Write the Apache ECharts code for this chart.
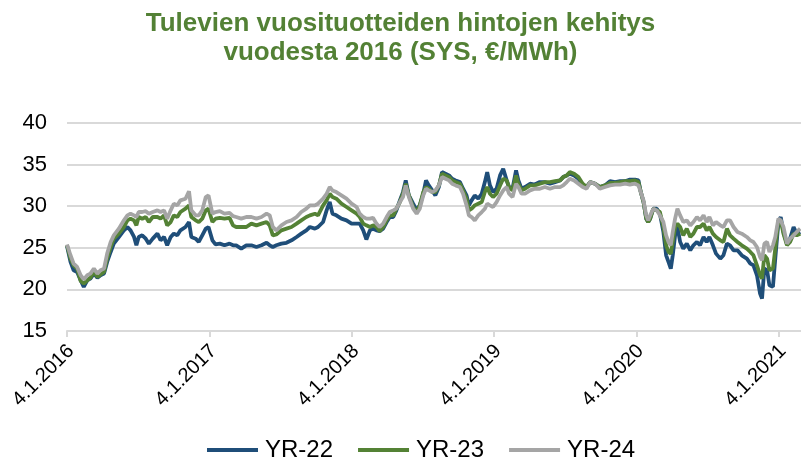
<!DOCTYPE html>
<html>
<head>
<meta charset="utf-8">
<script src="https://cdn.jsdelivr.net/npm/echarts@6/dist/echarts.min.js"></script>
<style>
html,body{margin:0;padding:0;background:#fff;}
#c{width:801px;height:462px;}
</style>
</head>
<body>
<div id="c"></div>
<script>
// Days since 4.1.2016
const days = [0,9,17,26,35,43,52,60,69,78,86,95,103,112,120,133,146,155,163,172,178,184,193,202,210,220,232,240,249,257,266,274,283,291,304,313,319,330,338,347,356,363,373,381,
392,404,417,426,434,447,460,473,486,499,512,520,528,537,550,563,576,589,601,614,623,636,644,657,666,674,681,691,704,717,730,743,
751,760,768,777,785,794,802,811,820,828,837,845,854,862,869,877,888,897,905,914,921,928,937,945,954,962,971,980,988,997,1008,1016,1025,1031,1038,1046,1055,1064,1072,1078,1085,1093,1102,1111,1119,
1128,1134,1143,1152,1158,1166,1175,1188,1200,1213,1226,1239,1252,1265,1273,1282,1290,1301,1312,1323,1333,1342,1355,1367,1380,1393,1406,1419,1432,1444,1457,1466,1472,1479,1486,1491,
1496,1504,1513,1521,1530,1537,1543,1549,1554,1560,1566,1573,1581,1590,1599,1607,1616,1624,1633,1641,1648,1657,1665,1676,1684,1693,1701,1710,1720,1731,1744,1753,1761,1770,1778,1783,1789,1796,1802,1811,1817,1825,1831,1838,1847,1855,1864,1872,1881];

const yr22 = [25.2,23.3,22.3,22.1,21.1,20.3,21.1,21.3,21.9,21.4,21.7,21.9,23.3,24.5,25.5,26.3,27.1,27.5,27.1,26.3,25.3,26.3,26.5,26.1,25.5,26.1,26.7,25.9,26.3,25.3,26.3,26.7,26.5,27.1,27.5,28.1,26.3,26.1,25.7,26.5,27.3,27.5,25.9,25.4,
25.5,25.3,25.5,25.3,25.3,24.9,25.3,25.3,25.1,25.3,25.6,25.3,25.1,25.3,25.5,25.6,25.9,26.3,26.7,27.1,27.5,27.3,27.5,28.1,29.5,30.5,29.1,28.9,28.5,28.3,27.9,27.9,
27.9,27.1,26.0,27.1,27.3,27.1,27.0,27.3,28.1,28.7,28.7,29.5,30.7,31.7,33.1,31.3,30.3,29.5,30.1,31.5,33.1,32.5,31.9,31.3,32.3,34.1,33.9,33.7,33.3,33.1,32.9,32.1,31.3,30.1,30.7,31.3,30.9,31.5,32.9,34.1,32.5,31.7,32.1,33.7,34.5,
33.1,32.3,32.1,34.3,33.1,32.1,32.3,32.7,32.6,32.9,32.9,32.7,32.9,33.1,33.5,33.7,33.9,33.7,33.3,32.5,32.3,32.9,32.7,32.3,32.5,33.0,32.9,33.0,33.0,33.2,33.2,33.1,31.7,30.5,28.5,28.1,
28.5,29.7,29.7,29.1,26.9,24.1,23.3,22.5,24.1,26.5,27.5,25.7,24.9,25.5,24.7,25.3,25.7,25.3,26.3,25.7,26.3,25.3,24.3,23.7,24.1,25.5,25.3,24.7,24.7,24.1,23.7,23.1,22.9,21.7,19.5,18.9,22.5,22.3,20.5,20.3,23.7,28.1,28.7,26.9,25.5,26.1,27.5,26.7,26.9];

const yr23 = [25.3,23.7,22.9,22.5,21.0,20.7,21.1,21.4,22.1,21.5,21.8,22.1,23.7,25.1,26.1,26.7,27.5,28.3,28.5,28.3,27.7,28.7,28.5,28.7,28.1,28.7,28.7,28.5,28.9,27.7,28.1,28.9,28.7,29.3,29.7,30.1,28.7,28.3,28.1,28.5,29.5,29.7,28.1,28.5,
28.6,28.5,28.6,27.7,27.5,27.5,27.5,27.9,27.7,27.9,28.1,27.7,26.5,26.6,27.1,27.3,27.5,27.9,28.3,28.7,28.9,29.1,28.9,30.1,30.7,31.5,31.1,30.9,30.3,29.9,29.5,29.1,
28.7,27.9,27.7,27.5,27.7,27.5,27.0,27.5,28.3,28.9,28.9,29.7,30.5,31.5,32.7,31.3,29.9,29.3,30.1,31.7,32.3,32.1,31.7,31.7,32.5,33.9,33.7,33.5,33.1,32.9,32.7,31.9,30.9,29.5,29.7,30.1,30.3,30.5,31.7,32.3,31.5,31.1,31.5,32.5,33.3,
33.1,32.3,31.9,33.7,32.7,31.9,32.1,32.5,32.5,32.7,32.9,32.9,33.0,33.1,33.5,33.7,34.1,33.9,33.5,32.7,32.3,32.9,32.7,32.3,32.5,32.8,32.8,32.9,33.0,33.0,33.1,32.9,31.7,30.5,28.5,28.1,
28.5,29.7,29.5,29.3,27.5,25.3,24.5,24.3,25.7,27.5,27.9,27.5,26.5,27.3,26.3,26.7,27.5,27.5,27.9,27.1,27.5,26.7,26.3,25.9,25.7,27.3,26.5,26.1,25.7,25.3,24.9,24.5,24.1,22.9,21.7,21.3,24.1,23.7,22.3,22.5,24.9,28.3,28.3,26.7,25.3,25.7,26.7,26.5,26.7];

const yr24 = [25.4,24.1,23.1,22.7,21.7,21.2,21.7,21.9,22.5,21.9,22.3,22.5,24.3,25.7,26.5,27.3,28.3,28.9,29.1,28.9,28.7,29.3,29.3,29.4,29.1,29.3,29.5,29.3,29.5,28.5,29.5,30.3,30.1,30.7,30.9,31.8,29.5,28.9,28.9,29.5,31.1,31.3,29.1,29.3,
29.4,29.1,29.2,28.8,28.7,28.5,28.7,28.7,28.5,28.7,29.1,28.9,27.5,27.1,27.7,28.1,28.3,28.7,29.3,29.7,30.1,30.1,30.3,30.9,31.5,32.3,31.9,31.7,31.3,30.9,30.3,29.9,
29.1,28.7,28.5,28.5,28.6,27.9,27.5,27.9,28.7,29.3,29.5,29.7,30.5,31.1,32.5,31.1,29.7,29.1,29.7,31.3,32.1,31.9,31.7,31.9,32.5,33.5,33.3,33.1,32.7,32.5,32.3,31.5,30.1,28.9,28.7,28.3,28.9,29.3,29.7,30.3,30.1,29.9,30.5,31.3,31.9,
32.3,31.5,31.1,32.7,32.3,31.5,31.5,31.9,32.1,32.1,32.3,32.1,32.3,32.3,32.5,32.9,33.3,33.1,32.7,32.3,32.1,32.9,32.7,32.1,32.3,32.5,32.6,32.6,32.7,32.6,32.7,32.5,31.7,30.7,28.9,28.3,
28.9,29.7,29.5,28.9,28.1,26.5,25.7,25.3,26.9,28.5,29.7,28.9,28.1,28.3,27.7,28.1,28.7,28.3,28.9,28.1,28.7,27.7,28.1,27.7,27.5,28.3,28.3,27.5,26.9,26.7,26.3,25.9,25.7,25.1,23.9,23.5,25.5,25.7,24.5,25.3,26.3,28.5,28.3,27.5,25.5,26.1,26.5,26.9,27.3];

const tickDays = [0,366,731,1096,1461,1827];
const tickLabels = ['4.1.2016','4.1.2017','4.1.2018','4.1.2019','4.1.2020','4.1.2021'];
const seriesNames = ['YR-22','YR-23','YR-24'];
const seriesColors = ['#1f4e79','#548235','#a5a5a5'];

function pairs(vals){ return days.map((d,i)=>[d, vals[i]]); }
const allVals = [yr22, yr23, yr24];
// small visual shift so the rotated labels sit like the original's
const LABEL_SHIFT = 10;
const labelPos = tickDays.map(d => d + LABEL_SHIFT);

const chart = echarts.init(document.getElementById('c'), null, {renderer:'canvas'});
chart.setOption({
  animation:false,
  backgroundColor:'#ffffff',
  title:{
    text:'Tulevien vuosituotteiden hintojen kehitys\nvuodesta 2016 (SYS, €/MWh)',
    left:'center', top:4,
    textStyle:{fontFamily:'Liberation Sans, Arial, sans-serif', fontWeight:'bold', fontSize:26, color:'#538135', lineHeight:29}
  },
  legend:{
    top:433, left:202,
    icon:'rect', itemWidth:51, itemHeight:4, itemGap:25,
    textStyle:{fontFamily:'Liberation Sans, Arial, sans-serif', fontSize:24, color:'#000', padding:[0,0,0,2]},
    data:seriesNames
  },
  grid:{left:67, right:0, top:123, bottom:131},
  xAxis:{
    type:'value', min:0, max:1883,
    splitLine:{show:false},
    axisLine:{show:true, lineStyle:{color:'#d9d9d9', width:2}},
    axisTick:{show:true, customValues:tickDays, length:6, lineStyle:{color:'#d9d9d9', width:2}},
    axisLabel:{
      customValues:labelPos, rotate:45, margin:17,
      fontFamily:'Liberation Sans, Arial, sans-serif', fontSize:20, color:'#000',
      formatter:function(v){ const i = labelPos.indexOf(v); return i>=0 ? tickLabels[i] : ''; }
    }
  },
  yAxis:{
    type:'value', min:15, max:40, interval:5,
    axisLine:{show:false}, axisTick:{show:false},
    splitLine:{show:true, lineStyle:{color:'#d9d9d9', width:2}},
    axisLabel:{fontFamily:'Liberation Sans, Arial, sans-serif', fontSize:22, color:'#000', margin:20}
  },
  series: seriesNames.map((n,i)=>({
    name:n, type:'line', data:pairs(allVals[i]),
    showSymbol:false, symbol:'none',
    lineStyle:{color:seriesColors[i], width:3.8},
    itemStyle:{color:seriesColors[i]},
    z:2+i
  }))
});
</script>
</body>
</html>
